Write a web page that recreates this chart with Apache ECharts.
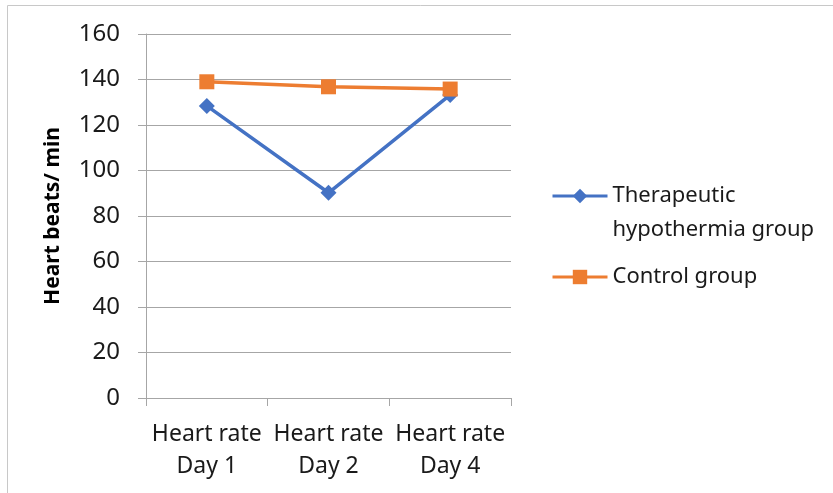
<!DOCTYPE html>
<html lang="en">
<head>
    <meta charset="utf-8">
    <title></title>
    <script src="https://cdn.jsdelivr.net/npm/echarts@6/dist/echarts.min.js"></script>
    <style>
        html, body {margin: 0; padding: 0; background: #fff;}
        #main {width: 833px; height: 493px;}
    </style>
</head>
<body>
<div id="main"></div>
<script type="text/javascript">
    // data
    var categories = ['Heart rate\nDay 1', 'Heart rate\nDay 2', 'Heart rate\nDay 4'];
    var hypothermia = [128.4, 90.2, 133.2];
    var control = [139.0, 136.8, 135.8];
    var seriesNames = ['Therapeutic\nhypothermia group', 'Control group'];
    var yTicks = {min: 0, max: 160, interval: 20};

    var font = 'Noto Sans';
    var grey = '#a6a6a6';
    var blue = '#4472c4', orange = '#ed7d31';

    var myChart = echarts.init(document.getElementById('main'));
    var option = {
        animation: false,
        textStyle: {fontFamily: font},
        // outer chart frame: only top and left edges are visible
        graphic: [{
            type: 'polyline',
            shape: {points: [[7.5, 493], [7.5, 5.5], [833, 5.5]]},
            style: {fill: 'none', stroke: '#c8c8c8', lineWidth: 1},
            silent: true
        }],
        grid: {left: 146, right: 322, top: 34, bottom: 95},
        legend: [{
            data: [seriesNames[0]],
            left: 551, top: 145, padding: 0,
            itemWidth: 55, itemHeight: 18,
            lineStyle: {width: 3},
            // leading blank line keeps the icon level with the first text line
            formatter: function (name) { return '\n' + name; },
            textStyle: {fontFamily: font, fontSize: 22, color: '#1a1a1a', lineHeight: 34}
        }, {
            data: [seriesNames[1]],
            left: 551, top: 260, padding: 0,
            itemWidth: 55, itemHeight: 18,
            lineStyle: {width: 3},
            textStyle: {fontFamily: font, fontSize: 22, color: '#1a1a1a', lineHeight: 34}
        }],
        xAxis: {
            type: 'category',
            data: categories,
            boundaryGap: true,
            axisLine: {lineStyle: {color: grey}},
            axisTick: {show: true, length: 8, lineStyle: {color: grey}},
            axisLabel: {fontFamily: font, fontSize: 23, color: '#1a1a1a', lineHeight: 32, margin: 20, interval: 0}
        },
        yAxis: {
            type: 'value',
            min: yTicks.min, max: yTicks.max, interval: yTicks.interval,
            name: 'Heart beats/ min',
            nameLocation: 'middle',
            nameGap: 82,
            nameTextStyle: {fontFamily: font, fontSize: 21, fontWeight: 'bold', color: '#000'},
            axisLine: {show: true, lineStyle: {color: grey}},
            axisTick: {show: true, length: 8, lineStyle: {color: grey}},
            axisLabel: {fontFamily: font, fontSize: 24, color: '#1a1a1a', margin: 26},
            splitLine: {lineStyle: {color: grey}}
        },
        series: [{
            name: seriesNames[0],
            type: 'line',
            data: hypothermia,
            symbol: 'diamond',
            symbolSize: 16,
            lineStyle: {width: 3.5, color: blue},
            itemStyle: {color: blue}
        }, {
            name: seriesNames[1],
            type: 'line',
            data: control,
            symbol: 'rect',
            symbolSize: 15,
            lineStyle: {width: 3.5, color: orange},
            itemStyle: {color: orange}
        }]
    };
    myChart.setOption(option);
</script>
</body>
</html>
